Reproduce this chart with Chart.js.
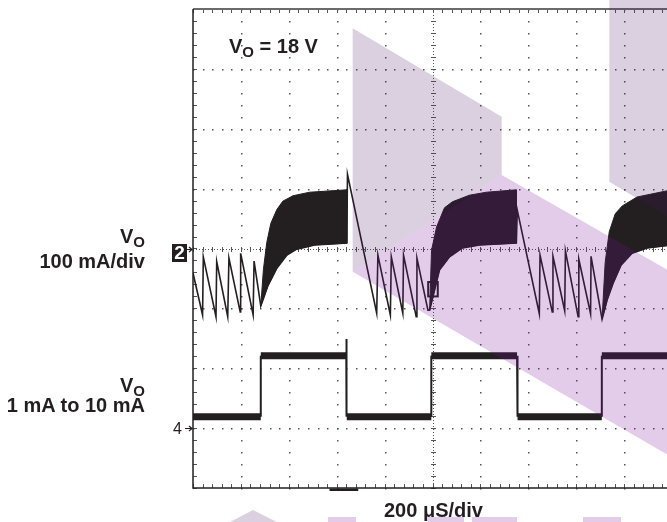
<!DOCTYPE html>
<html lang="en">
<head>
<meta charset="UTF-8">
<title>Load transient, VO = 18 V</title>
<link rel="icon" href="data:,">
<script src="https://cdn.jsdelivr.net/npm/chart.js"></script>
<style>
  html, body { margin: 0; padding: 0; overflow: hidden; background: #fff; }
  .scope { position: relative; width: 680px; height: 522px; font-family: "Liberation Sans", Arial, sans-serif; color: #231f20; }
  .scope canvas { position: absolute; left: 0; top: 0; }
  .label { position: absolute; font-weight: bold; font-size: 20px; line-height: 20px; white-space: nowrap; }
  .label.side { left: 0; width: 145px; text-align: right; }
  .sub { font-size: 15px; position: relative; top: 4px; }
  .marker2 { position: absolute; left: 172px; top: 244px; width: 15px; height: 18px; background: #231f20; color: #fff;
             font-weight: bold; font-size: 19px; line-height: 18px; text-align: center; }
  .marker4 { position: absolute; left: 173px; top: 421px; font-size: 16px; line-height: 16px; }
</style>
</head>
<body>
<div class="scope">
  <canvas id="scopeChart" width="680" height="522"></canvas>

  <div class="label side" style="top:226px">V<span class="sub">O</span></div>
  <div class="label side" style="top:251px">100 mA/div</div>
  <div class="label side" style="top:375px">V<span class="sub">O</span></div>
  <div class="label side" style="top:395px">1 mA to 10 mA</div>
  <div class="label" style="left:229px; top:36px">V<span class="sub">O</span> = 18 V</div>
  <div class="label" style="left:384px; top:500px">200 &mu;S/div</div>
  <div class="marker2">2</div>
  <div class="marker4">4</div>
</div>

<script>
// time in microseconds (10 div x 200 us), levels in screen divisions (8 div, centre = 0)
const timeRange = [0, 2000];
const levelRange = [-4, 4];

// channel 2 - inductor current: sawtooth bursts joined to the lower edge of the ripple bands
const ch2Time = [0, 40, 43, 96, 99, 145, 150, 197, 199, 251, 255, 283,
  312, 350, 392, 433, 508, 642,
  645, 767, 772, 824, 828, 876, 879, 932, 935, 981,
  988, 1029, 1071, 1125, 1196, 1350,
  1354, 1446, 1449, 1500, 1503, 1552, 1555, 1608, 1611, 1660, 1662, 1708,
  1729, 1754, 1787, 1833, 1896, 2000];
const ch2Level = [-0.41, -1.11, -0.14, -1.14, -0.22, -1.14, -0.16, -1.06, -0.08, -1.11, -0.21, -0.96,
  -0.63, -0.33, -0.11, -0.01, 0.06, 0.09,
  1.24, -1.08, -0.11, -1.11, -0.14, -1.08, -0.11, -1.14, -0.16, -1.03,
  -1.03, -0.36, -0.14, 0.01, 0.06, 0.09,
  0.64, -1.09, -0.11, -1.06, -0.13, -1.04, -0.04, -1.14, -0.18, -1.09, -0.13, -1.18,
  -0.86, -0.58, -0.28, -0.08, 0.01, 0.06];

// channel 2 ripple envelopes (heavy load intervals)
const band1TopTime = [283, 294, 308, 325, 350, 375, 417, 487, 642];
const band1TopLevel = [-0.96, -0.35, 0.1, 0.42, 0.65, 0.79, 0.88, 0.94, 0.98];
const band1BottomTime = [283, 312, 350, 392, 433, 508, 642];
const band1BottomLevel = [-0.96, -0.63, -0.33, -0.11, -0.01, 0.06, 0.09];
const band2TopTime = [988, 996, 1017, 1050, 1083, 1154, 1225, 1350];
const band2TopLevel = [-1.03, -0.03, 0.36, 0.68, 0.78, 0.89, 0.94, 0.98];
const band2BottomTime = [988, 1029, 1071, 1125, 1196, 1350];
const band2BottomLevel = [-1.03, -0.36, -0.14, 0.01, 0.06, 0.09];
const band3TopTime = [1708, 1721, 1738, 1763, 1792, 1854, 1975, 2000];
const band3TopLevel = [-1.18, -0.23, 0.28, 0.58, 0.71, 0.86, 0.96, 0.98];
const band3BottomTime = [1708, 1729, 1754, 1787, 1833, 1896, 2000];
const band3BottomLevel = [-1.18, -0.86, -0.58, -0.28, -0.08, 0.01, 0.06];

// channel 4 - load step 1 mA to 10 mA
const ch4Time = [0, 283, 283, 640, 640, 642, 995, 995, 1353, 1355, 1707, 1707, 2000];
const ch4Level = [-2.81, -2.81, -1.79, -1.79, -1.51, -2.81, -2.81, -1.79, -1.79, -2.81, -2.81, -1.79, -1.79];

// ground reference markers (divisions)
const groundLevels = [0, -3];

const traceColor = '#231f20';
const toPoints = (ts, vs) => ts.map((t, i) => ({x: t, y: vs[i]}));
const bandShape = (topT, topV, botT, botV) => toPoints(topT, topV).concat(toPoints(botT, botV).reverse());

function rippleBand(name, pts) {
    return {
        label: name, data: pts, showLine: true, fill: 'shape',
        backgroundColor: traceColor, borderColor: traceColor, borderWidth: 1, pointRadius: 0
    };
}

// oscilloscope graticule: dotted divisions, centre cross with fine ticks, frame ticks
const graticule = {
    id: 'graticule',
    beforeDatasetsDraw(chart) {
        const {ctx, chartArea: a, scales: {x, y}} = chart;
        const minorT = 40, minorV = 0.2;
        const x0 = Math.round(x.getPixelForValue(1000)) + 0.5;
        const y0 = Math.round(y.getPixelForValue(0)) + 0.5;
        ctx.save();
        ctx.fillStyle = '#555';
        for (let t = 200; t < 2000; t += 200) {
            if (t === 1000) continue;
            const px = Math.round(x.getPixelForValue(t));
            for (let v = -4; v <= 4.001; v += minorV) ctx.fillRect(px, Math.round(y.getPixelForValue(v)), 1.5, 1.5);
        }
        for (let k = -3; k <= 3; k++) {
            if (k === 0) continue;
            const py = Math.round(y.getPixelForValue(k));
            for (let t = 0; t <= 2000; t += minorT) ctx.fillRect(Math.round(x.getPixelForValue(t)), py, 1.5, 1.5);
        }
        // centre cross
        ctx.strokeStyle = '#555';
        ctx.lineWidth = 1;
        ctx.setLineDash([1, 2]);
        ctx.beginPath();
        ctx.moveTo(a.left, y0); ctx.lineTo(a.right, y0);
        ctx.moveTo(x0, a.top); ctx.lineTo(x0, a.bottom);
        ctx.stroke();
        ctx.setLineDash([]);
        ctx.beginPath();
        for (let t = 0; t <= 2000; t += minorT) {
            const px = Math.round(x.getPixelForValue(t)) + 0.5;
            ctx.moveTo(px, y0 - 2.5); ctx.lineTo(px, y0 + 2.5);
            ctx.moveTo(px, a.top); ctx.lineTo(px, a.top + 4);
            ctx.moveTo(px, a.bottom - 4); ctx.lineTo(px, a.bottom);
        }
        for (let v = -4; v <= 4.001; v += minorV) {
            const py = Math.round(y.getPixelForValue(v)) + 0.5;
            ctx.moveTo(x0 - 2.5, py); ctx.lineTo(x0 + 2.5, py);
            ctx.moveTo(a.left, py); ctx.lineTo(a.left + 4, py);
        }
        ctx.stroke();
        ctx.restore();
    },
    afterDatasetsDraw(chart) {
        const {ctx, chartArea: a, scales: {x, y}} = chart;
        ctx.save();
        // frame
        ctx.strokeStyle = '#6b6b6b';
        ctx.lineWidth = 2;
        ctx.beginPath(); ctx.moveTo(a.left, a.top); ctx.lineTo(a.right, a.top); ctx.stroke();
        ctx.strokeStyle = traceColor;
        ctx.lineWidth = 1.5;
        ctx.beginPath();
        ctx.moveTo(a.left, a.top); ctx.lineTo(a.left, a.bottom); ctx.lineTo(a.right, a.bottom);
        ctx.stroke();
        // trigger position mark under the frame
        ctx.fillStyle = traceColor;
        ctx.fillRect(x.getPixelForValue(570), a.bottom + 0.5, x.getPixelForValue(690) - x.getPixelForValue(570), 2.5);
        // trigger level box
        ctx.lineWidth = 2;
        ctx.strokeRect(x.getPixelForValue(982), y.getPixelForValue(-0.56), x.getPixelForValue(1022) - x.getPixelForValue(982), y.getPixelForValue(-0.8) - y.getPixelForValue(-0.56));
        // ground arrows
        ctx.lineWidth = 1.2;
        groundLevels.forEach(g => {
            const py = Math.round(y.getPixelForValue(g)) + 0.5;
            const xe = a.left - 1;
            ctx.beginPath();
            ctx.moveTo(xe - 7, py); ctx.lineTo(xe, py);
            ctx.moveTo(xe - 3, py - 2.5); ctx.lineTo(xe, py); ctx.lineTo(xe - 3, py + 2.5);
            ctx.stroke();
        });
        ctx.restore();
    },
    afterDraw(chart) {
        // print watermark over the trace
        const {ctx} = chart;
        const grey = 'rgba(77, 21, 100, 0.2)', pink = 'rgba(119, 16, 156, 0.21)';
        const shapes = [
            [grey, [[352.7, 28.3], [501.7, 116.7], [501.7, 175], [352.7, 271.7]]],
            [pink, [[352.7, 271.7], [501.7, 175], [680, 277], [680, 462]]],
            [grey, [[609.3, 0], [680, 0], [680, 224], [609.3, 181.7]]],
            [grey, [[230, 522], [253, 510], [277, 522]]],
            [pink, [[328, 517], [356, 517], [356, 522], [328, 522]]],
            [pink, [[428, 517], [464, 517], [464, 522], [428, 522]]],
            [pink, [[472, 517], [517, 517], [517, 522], [472, 522]]],
            [pink, [[583, 517], [621, 517], [621, 522], [583, 522]]]
        ];
        ctx.save();
        shapes.forEach(([c, pts]) => {
            ctx.fillStyle = c;
            ctx.beginPath();
            pts.forEach(([px, py], i) => i ? ctx.lineTo(px, py) : ctx.moveTo(px, py));
            ctx.closePath();
            ctx.fill();
        });
        ctx.restore();
    }
};

new Chart(document.getElementById('scopeChart'), {
    type: 'scatter',
    data: {
        datasets: [
            rippleBand('CH2 ripple 1', bandShape(band1TopTime, band1TopLevel, band1BottomTime, band1BottomLevel)),
            rippleBand('CH2 ripple 2', bandShape(band2TopTime, band2TopLevel, band2BottomTime, band2BottomLevel)),
            rippleBand('CH2 ripple 3', bandShape(band3TopTime, band3TopLevel, band3BottomTime, band3BottomLevel)),
            {
                label: 'CH2 100 mA/div', data: toPoints(ch2Time, ch2Level), showLine: true, fill: false,
                borderColor: traceColor, borderWidth: 1.6, pointRadius: 0
            },
            {
                label: 'CH4 1 mA to 10 mA', data: toPoints(ch4Time, ch4Level), showLine: true, fill: false,
                borderColor: traceColor, borderWidth: 2, pointRadius: 0,
                segment: {
                    borderWidth: c => c.p0.parsed.y === c.p1.parsed.y ? 7 : 2
                }
            }
        ]
    },
    options: {
        responsive: false,
        animation: false,
        events: [],
        layout: { padding: { left: 193, right: 8, top: 9, bottom: 34 } },
        plugins: {
            legend: { display: false },
            tooltip: { enabled: false }
        },
        scales: {
            x: { type: 'linear', min: timeRange[0], max: timeRange[1], display: false },
            y: { type: 'linear', min: levelRange[0], max: levelRange[1], display: false }
        }
    },
    plugins: [graticule]
});
</script>
</body>
</html>
